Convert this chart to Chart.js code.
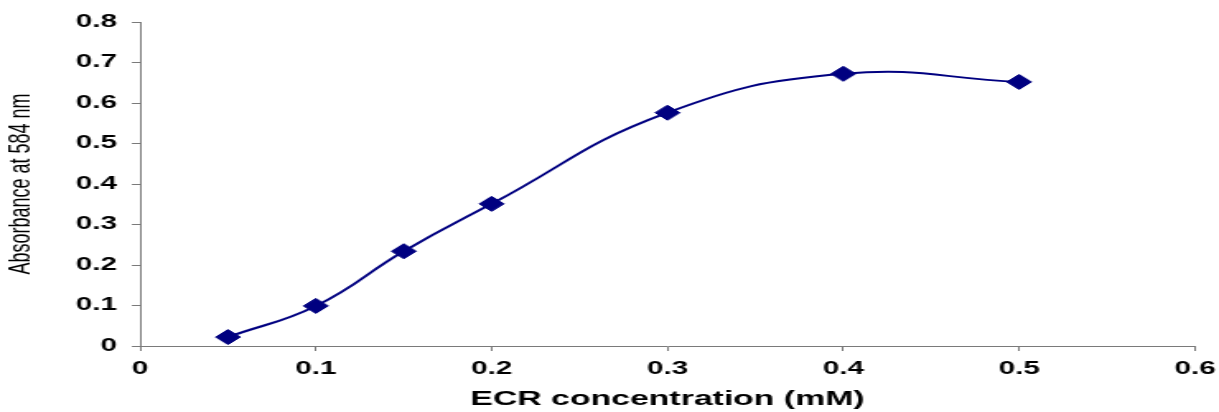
<!DOCTYPE html>
<html>
<head>
<meta charset="utf-8">
<script src="https://cdn.jsdelivr.net/npm/chart.js@4.4.1/dist/chart.umd.min.js"></script>
<style>
    html, body { margin: 0; padding: 0; background: #fff; overflow: hidden; }
    /* the reference is a horizontally stretched Excel chart, so draw narrow and stretch */
    #wrap { width: 740px; height: 412px; transform: scaleX(1.6473); transform-origin: 0 0; }
</style>
</head>
<body>
<div id="wrap"><canvas id="absChart"></canvas></div>
<script>
// 数据
const concentrations = [0.05, 0.1, 0.15, 0.2, 0.3, 0.4, 0.5];
const absorbance = [0.022, 0.099, 0.234, 0.351, 0.576, 0.672, 0.652];
const xTicks = [0, 0.1, 0.2, 0.3, 0.4, 0.5, 0.6];
const yTicks = [0, 0.1, 0.2, 0.3, 0.4, 0.5, 0.6, 0.7, 0.8];

const navy = '#000080';
const axisGrey = '#7a7a7a';
const tickFont = { family: "'Liberation Sans', Arial, sans-serif", size: 18, weight: 'bold' };

const fmt = v => (Math.round(v * 10) / 10).toString();

const ctx = document.getElementById('absChart');
const absChart = new Chart(ctx.getContext('2d'), {
    type: 'line',
    data: {
        datasets: [{
            data: concentrations.map((x, i) => ({ x: x, y: absorbance[i] })),
            borderColor: navy,
            backgroundColor: navy,
            borderWidth: 2,
            tension: 0.45,
            pointStyle: 'rectRot',
            pointRadius: 7.5,
            pointBackgroundColor: navy,
            pointBorderColor: navy,
            pointBorderWidth: 1,
            fill: false
        }]
    },
    options: {
        responsive: true,
        maintainAspectRatio: false,
        animation: false,
        events: [],
        layout: { padding: { top: 22, right: 14.6, left: 0, bottom: 0 } },
        plugins: {
            legend: { display: false },
            tooltip: { enabled: false }
        },
        scales: {
            x: {
                type: 'linear',
                min: 0,
                max: 0.6,
                afterBuildTicks: s => { s.ticks = xTicks.map(v => ({ value: v })); },
                afterFit: s => { s.height = 66; s.paddingRight = 0; s.paddingLeft = 0; },
                grid: { display: true, drawOnChartArea: false, drawTicks: true, tickLength: 5, color: axisGrey },
                border: { display: true, color: axisGrey, width: 1 },
                ticks: { color: '#000', font: tickFont, padding: 7, maxRotation: 0, callback: v => fmt(v) },
                title: {
                    display: true,
                    text: 'ECR concentration (mM)',
                    color: '#000',
                    font: { family: "'Liberation Sans', Arial, sans-serif", size: 20.5, weight: 'bold' },
                    padding: { top: 0, bottom: 0 }
                }
            },
            y: {
                type: 'linear',
                min: 0,
                max: 0.8,
                afterBuildTicks: s => { s.ticks = yTicks.map(v => ({ value: v })); },
                afterFit: s => { s.width = 85; },
                grid: { display: true, drawOnChartArea: false, drawTicks: true, tickLength: 5, color: axisGrey },
                border: { display: true, color: axisGrey, width: 1 },
                ticks: { color: '#000', font: tickFont, padding: 9, callback: v => fmt(v) },
                title: {
                    display: true,
                    text: 'Absorbance at 584 nm',
                    color: '#000',
                    font: { family: "'Liberation Sans', Arial, sans-serif", size: 18, weight: 'normal' },
                    padding: { top: 2.5, bottom: 0 }
                }
            }
        }
    }
});
</script>
</body>
</html>
